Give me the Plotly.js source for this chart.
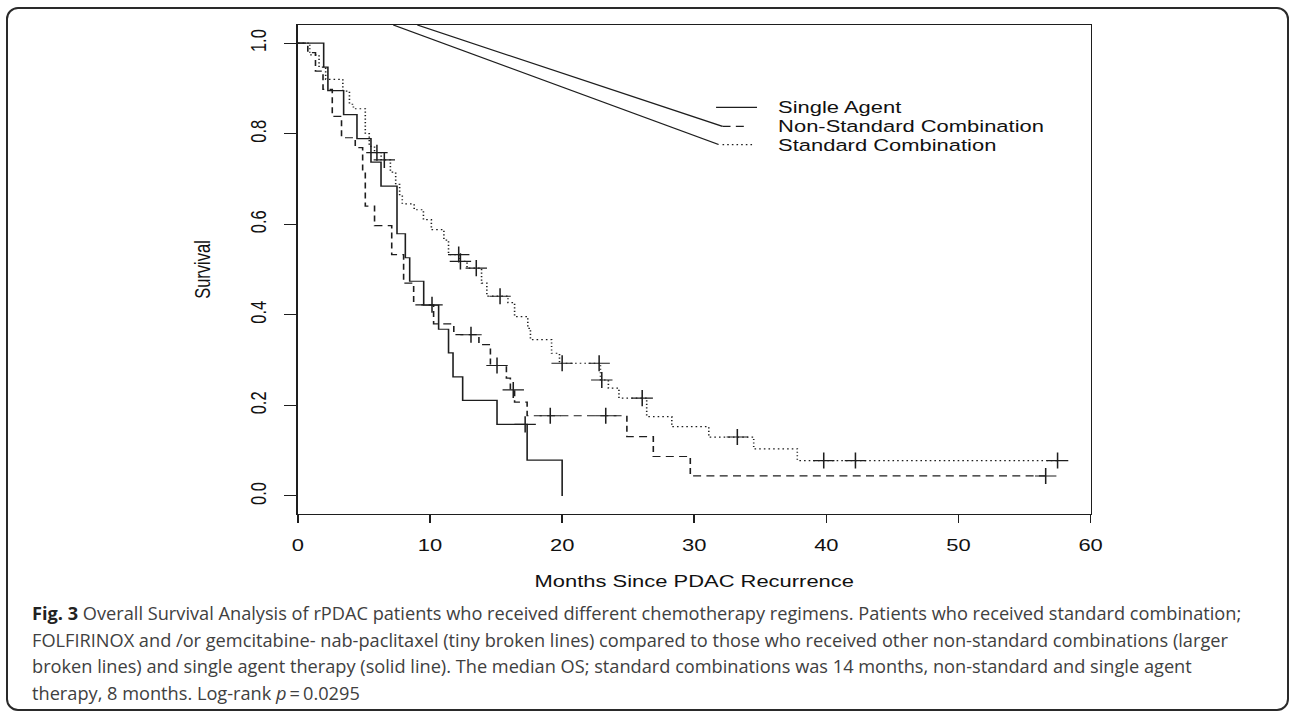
<!DOCTYPE html>
<html>
<head>
<meta charset="utf-8">
<script src="https://cdn.plot.ly/plotly-3.0.1.min.js"></script>
<style>
  html, body { margin: 0; padding: 0; background: #ffffff; }
  body { width: 1290px; height: 713px; position: relative; overflow: hidden; }
  #chart { position: absolute; left: 0; top: 0; transform-origin: 0 0; }
  #frame { position: absolute; left: 6px; top: 7px; width: 1283px; height: 704px; box-sizing: border-box;
           border: 2px solid #2a2a2a; border-radius: 12px; pointer-events: none; z-index: 5; }
  #caption { position: absolute; left: 32px; top: 600px; font-family: "Open Sans", "Noto Sans", sans-serif;
             font-size: 18.2px; line-height: 26.7px; color: #404040; white-space: nowrap; z-index: 6; }
  #caption b { color: #222; }
</style>
</head>
<body>
<div id="chart"></div>
<div id="frame"></div>
<div id="caption">
  <div><b>Fig. 3</b> Overall Survival Analysis of rPDAC patients who received different chemotherapy regimens. Patients who received standard combination;</div>
  <div>FOLFIRINOX and /or gemcitabine- nab-paclitaxel (tiny broken lines) compared to those who received other non-standard combinations (larger</div>
  <div>broken lines) and single agent therapy (solid line). The median OS; standard combinations was 14 months, non-standard and single agent</div>
  <div>therapy, 8 months. Log-rank <i>p</i>&#8201;=&#8201;0.0295</div>
</div>
<script>
// ---- Data ----
const seriesNames = ["Single Agent", "Non-Standard Combination", "Standard Combination"];

const singleT = [0, 1.95, 2.27, 3.46, 4.47, 5.53, 6.29, 7.5, 8.13, 8.46, 9.52, 10.65, 11.4, 11.74, 12.47, 15.07, 17.35, 20.0];
const singleS = [1, 0.947, 0.895, 0.842, 0.789, 0.737, 0.684, 0.579, 0.526, 0.474, 0.421, 0.368, 0.316, 0.263, 0.211, 0.158, 0.079, 0];
const singleCensT = [17.2];
const singleCensS = [0.158];

const nonStdT = [0, 0.75, 1.33, 1.9, 2.6, 3.3, 4.34, 4.9, 5.1, 5.8, 7.1, 8.0, 8.76, 10.27, 11.8, 13.7, 14.57, 15.78, 16.08, 16.4, 17.35, 24.9, 26.9, 29.7, 56.6];
const nonStdS = [1, 0.979, 0.938, 0.898, 0.838, 0.791, 0.769, 0.72, 0.64, 0.597, 0.533, 0.47, 0.422, 0.38, 0.356, 0.334, 0.288, 0.26, 0.234, 0.207, 0.177, 0.131, 0.087, 0.044, 0.044];
const nonStdCensT = [10.15, 13.1, 15.07, 16.3, 19.1, 23.3, 56.6];
const nonStdCensS = [0.422, 0.356, 0.288, 0.234, 0.177, 0.177, 0.044];

const stdT = [0, 0.9, 1.6, 2.1, 3.4, 3.9, 4.2, 5.1, 5.4, 5.8, 6.3, 7.0, 7.4, 7.7, 7.9, 8.8, 9.5, 10.1, 11.05, 11.4, 12.2, 12.8, 13.9, 14.3, 15.9, 16.4, 17.4, 17.6, 19.2, 19.8, 22.9, 23.5, 24.3, 26.4, 28.3, 31.1, 34.5, 37.8, 57.5];
const stdS = [1, 0.974, 0.947, 0.92, 0.894, 0.865, 0.855, 0.80, 0.772, 0.758, 0.742, 0.715, 0.688, 0.662, 0.645, 0.632, 0.61, 0.588, 0.565, 0.533, 0.518, 0.503, 0.47, 0.441, 0.427, 0.396, 0.37, 0.345, 0.315, 0.293, 0.256, 0.238, 0.216, 0.175, 0.153, 0.130, 0.104, 0.078, 0.078];
const stdCensT = [5.98, 6.54, 12.17, 12.3, 13.5, 15.3, 20.0, 22.8, 23.0, 26.06, 33.26, 39.8, 42.2, 57.5];
const stdCensS = [0.758, 0.742, 0.533, 0.518, 0.503, 0.441, 0.293, 0.293, 0.256, 0.216, 0.130, 0.078, 0.078, 0.078];

const xTicks = [0, 10, 20, 30, 40, 50, 60];
const yTicks = [0, 0.2, 0.4, 0.6, 0.8, 1.0];
const yTickText = ["0.0", "0.2", "0.4", "0.6", "0.8", "1.0"];

// ---- Rendering ----
const STRETCH = 1.33;            // the reference plot is horizontally stretched
const FULLW = 1290, FULLH = 600;
const W = FULLW / STRETCH;
const chartDiv = document.getElementById('chart');
chartDiv.style.width = W + 'px';
chartDiv.style.height = FULLH + 'px';
chartDiv.style.transform = 'scaleX(' + STRETCH + ')';

const INK = '#1e1e1e';
const FONT = 'Liberation Sans, Arial, Helvetica, sans-serif';
const FS = 16.5;
const DASH = '6px,4px';
const DOT = '1.2px,2.3px';

function stepTrace(x, y, dash, name) {
  return { x: x, y: y, type: 'scatter', mode: 'lines', name: name,
           line: { shape: 'hv', color: INK, width: 1.2, dash: dash }, hoverinfo: 'skip' };
}
function censTrace(x, y, name) {
  return { x: x, y: y, type: 'scatter', mode: 'markers', name: name + ' (censored)', showlegend: false,
           marker: { symbol: 'cross-thin-open', size: 11.5, color: INK, line: { color: INK, width: 1.15 } },
           hoverinfo: 'skip' };
}

const traces = [
  stepTrace(singleT, singleS, 'solid', seriesNames[0]),
  stepTrace(nonStdT, nonStdS, DASH, seriesNames[1]),
  stepTrace(stdT, stdS, DOT, seriesNames[2]),
  censTrace(singleCensT, singleCensS, seriesNames[0]),
  censTrace(nonStdCensT, nonStdCensS, seriesNames[1]),
  censTrace(stdCensT, stdCensS, seriesNames[2])
];

// legend rows (data coords)
const legY = [0.858, 0.816, 0.776];
const legDash = ['solid', DASH, DOT];
const shapes = [
  { type: 'line', xref: 'x', yref: 'y', x0: 9.04, y0: 1.04, x1: 32.14, y1: legY[1], line: { color: INK, width: 1.2 } },
  { type: 'line', xref: 'x', yref: 'y', x0: 7.22, y0: 1.04, x1: 31.84, y1: legY[2], line: { color: INK, width: 1.2 } },
  { type: 'line', xref: 'x', yref: 'y', x0: 31.65, y0: legY[0], x1: 34.75, y1: legY[0], line: { color: INK, width: 1.2, dash: legDash[0] } },
  { type: 'line', xref: 'x', yref: 'y', x0: 32.14, y0: legY[1], x1: 33.9, y1: legY[1], line: { color: INK, width: 1.2, dash: legDash[1] } },
  { type: 'line', xref: 'x', yref: 'y', x0: 32.14, y0: legY[2], x1: 34.4, y1: legY[2], line: { color: INK, width: 1.2, dash: legDash[2] } }
];
const annotations = seriesNames.map((n, i) => ({
  xref: 'x', yref: 'y', x: 36.15, y: legY[i], text: n, showarrow: false,
  xanchor: 'left', yanchor: 'middle', font: { family: FONT, size: FS, color: '#111' }
}));

const layout = {
  width: W, height: FULLH,
  margin: { l: 297.7 / STRETCH, r: (FULLW - 1090) / STRETCH, t: 25, b: FULLH - 514 },
  paper_bgcolor: 'rgba(0,0,0,0)', plot_bgcolor: 'rgba(0,0,0,0)',
  showlegend: false,
  font: { family: FONT, size: FS, color: '#111' },
  xaxis: {
    range: [0, 60], tickvals: xTicks, ticktext: xTicks.map(String),
    ticks: 'outside', ticklen: 8, tickwidth: 1.2, tickcolor: INK,
    showline: true, mirror: true, linecolor: INK, linewidth: 1.4,
    showgrid: false, zeroline: false, ticklabelstandoff: 8,
    tickfont: { family: FONT, size: FS, color: '#111' },
    title: { text: 'Months Since PDAC Recurrence', font: { family: FONT, size: FS, color: '#111' }, standoff: 22 },
    automargin: false
  },
  yaxis: {
    range: [-0.04, 1.04], tickvals: yTicks, ticktext: yTickText, tickangle: -90,
    ticks: 'outside', ticklen: 9.5, tickwidth: 1.2, tickcolor: INK,
    showline: true, mirror: true, linecolor: INK, linewidth: 1.2,
    showgrid: false, zeroline: false, ticklabelstandoff: 7,
    tickfont: { family: FONT, size: FS, color: '#111' },
    title: { text: 'Survival', font: { family: FONT, size: FS, color: '#111' }, standoff: 22 },
    automargin: false
  },
  shapes: shapes,
  annotations: annotations
};

Plotly.newPlot(chartDiv, traces, layout, { staticPlot: true, displayModeBar: false });
</script>
</body>
</html>
